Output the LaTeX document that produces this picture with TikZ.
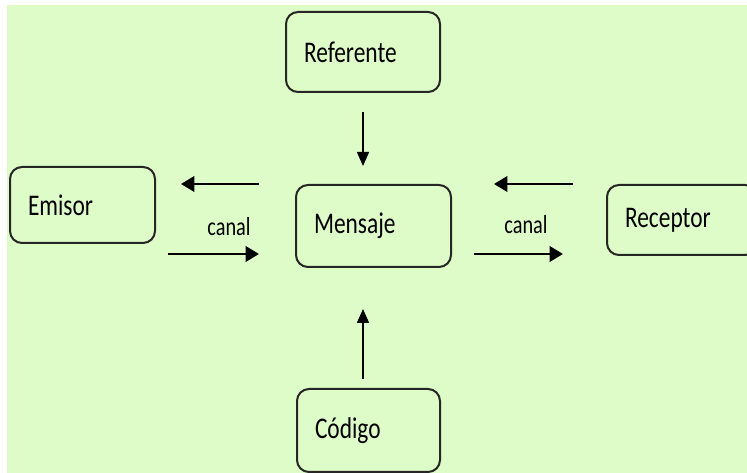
\documentclass[tikz,border=0pt]{standalone}
\usepackage{fontspec}
\setmainfont{Carlito}[FakeStretch=0.78]
\usepackage{tikz}
\usetikzlibrary{positioning}
\usetikzlibrary{arrows.meta,calc}
\definecolor{fondo}{RGB}{222,252,200}
\tikzstyle{caja}=[draw=black!85,line width=1.5pt,rounded corners=9pt,align=left,inner xsep=13.5pt,inner ysep=0pt,font=\fontsize{22.5pt}{26pt}\selectfont]
\tikzstyle{etiqueta}=[inner sep=0pt,font=\fontsize{19.5pt}{23pt}\selectfont]
\tikzstyle{flecha}=[draw,line width=2pt,-{Triangle[length=10pt,width=11.5pt]}]
\tikzstyle{flechav}=[draw,line width=1.2pt,-{Triangle[length=10.5pt,width=9pt]}]

\begin{document}
\begin{tikzpicture}[x=0.75pt,y=-0.75pt]

    \useasboundingbox (0,0) rectangle (747,473);
    \fill[white] (0,0) rectangle (747,473);
    \fill[fondo] (7,5) rectangle (747,473);

    % cajas
    \node[caja, text width=88.5pt, minimum height=60pt] (referente) at (363,52) {Referente};
    \node[caja, text width=81.75pt, minimum height=57pt] (emisor) at (82.5,205) {Emisor};
    \node[caja, text width=89.25pt, minimum height=61.5pt] (mensaje) at (373.5,226) {Mensaje};
    \node[caja, text width=85.5pt, minimum height=52.5pt] (receptor) at (682,220) {Receptor};
    \node[caja, text width=80.25pt, minimum height=62.25pt] (codigo) at (368.5,430.5) {Código};

    \node[etiqueta] (canalizq) at (229,227) {canal};
    \node[etiqueta] (canalder) at (526,225) {canal};

    \coordinate (abajo) at ($(mensaje.south)+(0,-14)$);

    % flechas verticales
    \path[flechav, shorten <=14.25pt, shorten >=13.5pt] (referente.south) -- (referente.south |- mensaje.north);
    \path[flechav, shorten <=7.1pt, shorten >=30.75pt] (referente.south |- codigo.north) -- (referente.south |- mensaje.south);

    % canales
    \foreach \source/\dest/\ini/\fin in {mensaje.north west/emisor.east |- mensaje.north west/27pt/18.75pt,
                                         emisor.east |- abajo/mensaje.west |- abajo/9pt/27pt,
                                         receptor.west |- mensaje.north/mensaje.north east/24.75pt/31.5pt,
                                         mensaje.east |- abajo/receptor.west |- abajo/16.5pt/32.25pt}
        \path[flecha, shorten <=\ini, shorten >=\fin] (\source) -- (\dest);

\end{tikzpicture}
\end{document}
